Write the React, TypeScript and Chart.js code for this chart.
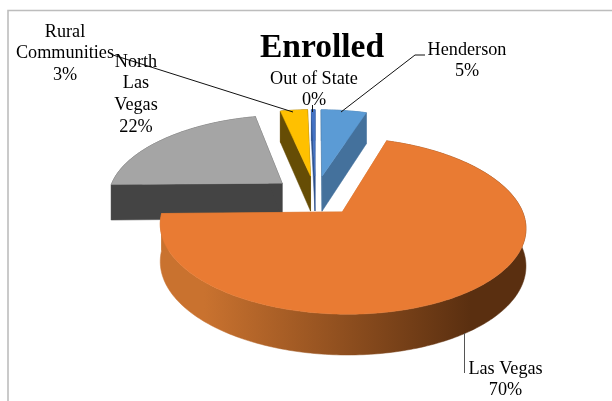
import React, { useEffect, useRef } from "react";
import { Chart, registerables } from "chart.js";

Chart.register(...registerables);

// ---- data ----
const categories = ["Henderson", "Las Vegas", "North Las Vegas", "Rural Communities", "Out of State"];
const enrolled = [5, 70, 22, 3, 0.4];

// ---- styles ----
const topColors = ["#5B9BD5", "#E97B33", "#A5A5A5", "#FFC000", "#4472C4"];
const cutColors = ["#44719C", "#C9722F", "#444444", "#664D05", "#2F528F"];
const wallLeft = ["#44719C", "#C9722F", "#444444", "#664D05", "#2F528F"];
const wallRight = ["#44719C", "#5A2F10", "#444444", "#664D05", "#2F528F"];
const paintOrder = [2, 3, 4, 0, 1];
const EXPLODE = 25; // arc offset option, percent of the radius

const labelLines = [["Henderson"], ["Las Vegas"], ["North", "Las", "Vegas"], ["Rural", "Communities"], ["Out of State"]];
const labelCenters = [
  { x: 467, y: 50 },
  { x: 505.5, y: 369 },
  { x: 136, y: 62 },
  { x: 65, y: 32 },
  { x: 314, y: 79 },
];
const LINE_STEP = 21.7;
const FONT = '"Liberation Serif", "Times New Roman", serif';

const leaders = [
  { color: "#111111", pts: [[425, 55], [415, 55], [341, 112]] },
  { color: "#555555", pts: [[464.5, 333], [464.5, 373]] },
  { color: "#111111", pts: [[113, 55], [293, 112]] },
  { color: "#111111", pts: [[312.5, 105], [312.5, 112]] },
];

// ---- perspective of the pie plane ----
const view = { cx: 315.5, cy: 195.3, sx: 174.5, sy: 80, persp: 0.16, farLift: 1.5, depth0: 36, depthSlope: -4 };

function project(u: number, v: number, down: boolean) {
  const w = 1 + view.persp * v;
  const x = view.cx + (view.sx * u) / w;
  let y = view.cy - (view.sy * v) / w - (v > 0 ? view.farLift * v * v : 0);
  if (down) y += view.depth0 + view.depthSlope * v;
  return [x, y];
}

const threeDPie = {
  id: "threeDPie",
  beforeDraw(chart: any) {
    const { ctx } = chart;
    ctx.save();
    ctx.fillStyle = "#ffffff";
    ctx.fillRect(0, 0, chart.width, chart.height);
    ctx.strokeStyle = "#BDBDBD";
    ctx.lineWidth = 1.6;
    ctx.beginPath();
    ctx.moveTo(8, chart.height);
    ctx.lineTo(8, 10.5);
    ctx.lineTo(chart.width, 10.5);
    ctx.stroke();
    ctx.restore();
  },
  beforeDatasetsDraw(chart: any) {
    const { ctx } = chart;
    const arcs = chart.getDatasetMeta(0).data;
    const values = chart.data.datasets[0].data as number[];
    const total = values.reduce((a: number, b: number) => a + b, 0);

    ctx.save();
    for (const i of paintOrder) {
      const arc = arcs[i];
      const { startAngle, endAngle } = arc.getProps(["startAngle", "endAngle"], true);
      const mid = (startAngle + endAngle) / 2;
      const e = arc.options.offset / 100;
      const ou = Math.cos(mid) * e;
      const ov = -Math.sin(mid) * e;
      const rim = (a: number, down: boolean) => project(ou + Math.cos(a), ov - Math.sin(a), down);
      const steps = Math.max(2, Math.ceil(((endAngle - startAngle) * 180) / Math.PI));
      const angles: number[] = [];
      for (let s = 0; s <= steps; s++) angles.push(startAngle + ((endAngle - startAngle) * s) / steps);

      const poly = (pts: number[][], fill: any) => {
        ctx.beginPath();
        pts.forEach((p, n) => (n ? ctx.lineTo(p[0], p[1]) : ctx.moveTo(p[0], p[1])));
        ctx.closePath();
        ctx.fillStyle = fill;
        ctx.strokeStyle = fill;
        ctx.lineWidth = 0.5;
        ctx.fill();
        ctx.stroke();
      };

      // outer wall
      const topRim = angles.map((a) => rim(a, false));
      const lowRim = angles.map((a) => rim(a, true));
      const xs = topRim.map((p) => p[0]);
      const g = ctx.createLinearGradient(Math.min(...xs), 0, Math.max(...xs), 0);
      g.addColorStop(0, wallLeft[i]);
      g.addColorStop(0.12, wallLeft[i]);
      g.addColorStop(0.85, wallRight[i]);
      g.addColorStop(1, wallRight[i]);
      poly([...topRim, ...lowRim.slice().reverse()], g);

      // the two cut faces
      const apexTop = project(ou, ov, false);
      const apexLow = project(ou, ov, true);
      poly([apexTop, rim(startAngle, false), rim(startAngle, true), apexLow], cutColors[i]);
      poly([apexTop, rim(endAngle, false), rim(endAngle, true), apexLow], cutColors[i]);

      // top face
      poly([apexTop, ...topRim], topColors[i]);
    }

    // leader lines
    ctx.lineWidth = 1;
    for (const l of leaders) {
      ctx.strokeStyle = l.color;
      ctx.beginPath();
      l.pts.forEach((p, n) => (n ? ctx.lineTo(p[0], p[1]) : ctx.moveTo(p[0], p[1])));
      ctx.stroke();
    }

    // labels
    ctx.fillStyle = "#000000";
    ctx.font = `18.2px ${FONT}`;
    ctx.textAlign = "center";
    ctx.textBaseline = "middle";
    labelLines.forEach((lines, i) => {
      const all = [...lines, `${Math.round((values[i] / total) * 100)}%`];
      all.forEach((t, n) => ctx.fillText(t, labelCenters[i].x, labelCenters[i].y + n * LINE_STEP));
    });
    ctx.restore();
    return false;
  },
};

export default function App() {
  const ref = useRef<HTMLCanvasElement>(null);
  useEffect(() => {
    document.body.style.margin = "0";
    const chart = new Chart(ref.current as HTMLCanvasElement, {
      type: "pie",
      data: {
        labels: categories,
        datasets: [{ data: enrolled, backgroundColor: topColors, offset: EXPLODE, borderWidth: 0 }],
      },
      options: {
        responsive: false,
        animation: false,
        layout: { padding: { left: 32 } },
        plugins: {
          legend: { display: false },
          tooltip: { enabled: false },
          title: {
            display: true,
            text: "Enrolled",
            fullSize: false,
            color: "#000000",
            padding: { top: 28.5, bottom: 0 },
            font: { family: FONT, size: 33.5, weight: "bold", lineHeight: 1.2 },
          },
        },
      },
      plugins: [threeDPie],
    } as any);
    return () => chart.destroy();
  }, []);
  return <canvas ref={ref} width={612} height={401} style={{ display: "block", width: 612, height: 401 }} />;
}
